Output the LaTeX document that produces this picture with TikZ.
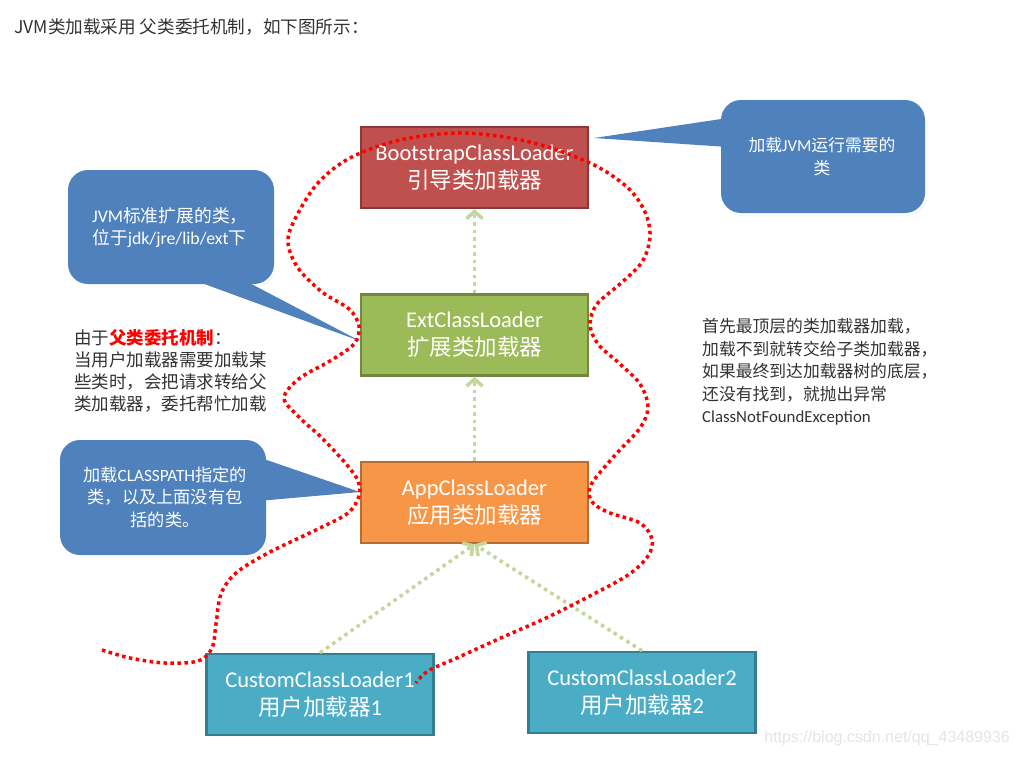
\documentclass[tikz,border=0pt]{standalone}
\usepackage{fontspec}
\setmainfont{Noto Sans CJK SC}
\newfontfamily\lat{Carlito}
\newfontfamily\web{Liberation Sans}
\usepackage{tikz}
\usetikzlibrary{
  arrows.meta,
  positioning,
  shadows
}
\definecolor{bootfill}{HTML}{C0504D}
\definecolor{bootline}{HTML}{8C3836}
\definecolor{extfill}{HTML}{9BBB59}
\definecolor{extline}{HTML}{71893F}
\definecolor{appfill}{HTML}{F79646}
\definecolor{appline}{HTML}{B66D31}
\definecolor{custfill}{HTML}{4BACC6}
\definecolor{custline}{HTML}{357D91}
\definecolor{bubbleblue}{HTML}{4F81BD}
\definecolor{parentgreen}{HTML}{C3D69B}
\definecolor{notegray}{HTML}{333333}
\tikzset{
  loader/.style={draw,line width=2.5pt,minimum width=227pt,minimum height=81pt,
    inner sep=0pt,align=center,text=white,font=\fontsize{22.5}{28}\selectfont},
  parent arrow/.style={draw=parentgreen,line width=3.5pt,dash pattern=on 3.5pt off 4pt,
    -{Straight Barb[length=7pt,width=16pt]}},
  bubble edge/.style={draw=white,fill=white,line width=5pt,line join=round,
    drop shadow={opacity=0.2,shadow xshift=2pt,shadow yshift=-2.5pt}},
  bubble/.style={fill=bubbleblue},
  bubble text/.style={text=white,inner sep=0pt},
  note/.style={text=notegray,inner sep=0pt,align=left,font=\fontsize{16.8}{22.5}\selectfont},
  delegation/.style={draw=red,line width=3.5pt,dash pattern=on 3.5pt off 3.5pt},
}

\begin{document}
\begin{tikzpicture}[x=1pt,y=-1pt]
\fill[white] (0,0) rectangle (1018,756);
\useasboundingbox (0,0) rectangle (1018,756);

\node[note,anchor=west,font=\fontsize{17.6}{20}\selectfont] (title) at (14,27)
  {JVM类加载采用 父类委托机制，如下图所示：};

% callouts
\path[bubble edge] [rounded corners=20pt] (721,100) rectangle (925,213)
  [sharp corners] (728,118) -- (594,138) -- (728,147) -- cycle;
\fill[bubble,rounded corners=20pt] (721,100) rectangle (925,213);
\fill[bubble] (728,118) -- (594,138) -- (728,147) -- cycle;
\node[bubble text,align=center,font=\fontsize{16.8}{23}\selectfont] (bootnote) at (822,157)
  {加载{\lat JVM}运行需要的\\类};

\path[bubble edge] [rounded corners=20pt] (68,170) rectangle (274,284)
  [sharp corners] (188,278) -- (360,341) -- (240,278) -- cycle;
\fill[bubble,rounded corners=20pt] (68,170) rectangle (274,284);
\fill[bubble] (188,278) -- (360,341) -- (240,278) -- cycle;
\node[bubble text,align=left,anchor=west,font=\fontsize{17.8}{22}\selectfont] (extnote) at (92,228)
  {{\lat JVM}标准扩展的类，\\位于{\lat jdk/jre/lib/ext}下};

\path[bubble edge] [rounded corners=20pt] (60,440) rectangle (266,555)
  [sharp corners] (258,457) -- (360,492) -- (258,501) -- cycle;
\fill[bubble,rounded corners=20pt] (60,440) rectangle (266,555);
\fill[bubble] (258,457) -- (360,492) -- (258,501) -- cycle;
\node[bubble text,align=center,font=\fontsize{17.2}{22.5}\selectfont] (appnote) at (165,497)
  {加载{\lat CLASSPATH}指定的\\类，以及上面没有包\\括的类。};

% loaders
\node[loader,fill=bootfill,draw=bootline] (boot) at (474.5,167.5)
  {{\lat BootstrapClassLoader}\\引导类加载器};
\node[loader,fill=extfill,draw=extline,below=84pt of boot] (ext)
  {{\lat ExtClassLoader}\\扩展类加载器};
\node[loader,fill=appfill,draw=appline,below=84pt of ext] (app)
  {{\lat AppClassLoader}\\应用类加载器};
\node[loader,fill=custfill,draw=custline] (cust1) at (320,694.5)
  {{\lat CustomClassLoader1}\\用户加载器{\lat 1}};
\node[loader,fill=custfill,draw=custline] (cust2) at (642,692.5)
  {{\lat CustomClassLoader2}\\用户加载器{\lat 2}};

\draw[parent arrow] (ext) -- (boot);
\draw[parent arrow] (app) -- (ext);
\draw[parent arrow] (cust1.north) -- (app.south);
\draw[parent arrow] (cust2.north) -- (app.south);

% notes
\node[note,anchor=west,font=\fontsize{17.5}{22}\selectfont] (delegate) at (74,371)
  {由于{\color{red}\bfseries 父类委托机制}：\\当用户加载器需要加载某\\些类时，会把请求转给父\\类加载器，委托帮忙加载};
\node[note,anchor=west] (lookup) at (702,372)
  {首先最顶层的类加载器加载，\\加载不到就转交给子类加载器，\\如果最终到达加载器树的底层，\\还没有找到，就抛出异常\\{\lat ClassNotFoundException}};

\draw[delegation] plot[smooth,tension=0.55] coordinates {
  (102,650) (130,658) (165,663) (198,661) (212,648) (216,624) (221,594)
  (236,573) (268,553) (318,529) (348,513) (359,496) (358,481) (347,465)
  (322,438) (300,418) (284,398) (300,378) (330,361) (354,344) (359,326)
  (349,309) (322,292) (298,268) (288,243) (294,221) (317,184) (350,158)
  (400,140) (463,133) (530,142) (590,163) (627,187) (645,212) (650,237)
  (642,262) (620,284) (597,304) (590,324) (598,344) (620,364) (640,384)
  (648,407) (640,428) (617,453) (594,480) (589,493) (594,504) (610,513)
  (640,523) (652,539) (648,556) (628,575) (586,598) (546,618) (503,637)
  (459,657) (428,671) (416,683)};

\node[anchor=east,text=black!10,font=\web\fontsize{16}{18}\selectfont,inner sep=0pt] (watermark)
  at (1010,738) {https://blog.csdn.net/qq\_43489936};
\end{tikzpicture}
\end{document}
